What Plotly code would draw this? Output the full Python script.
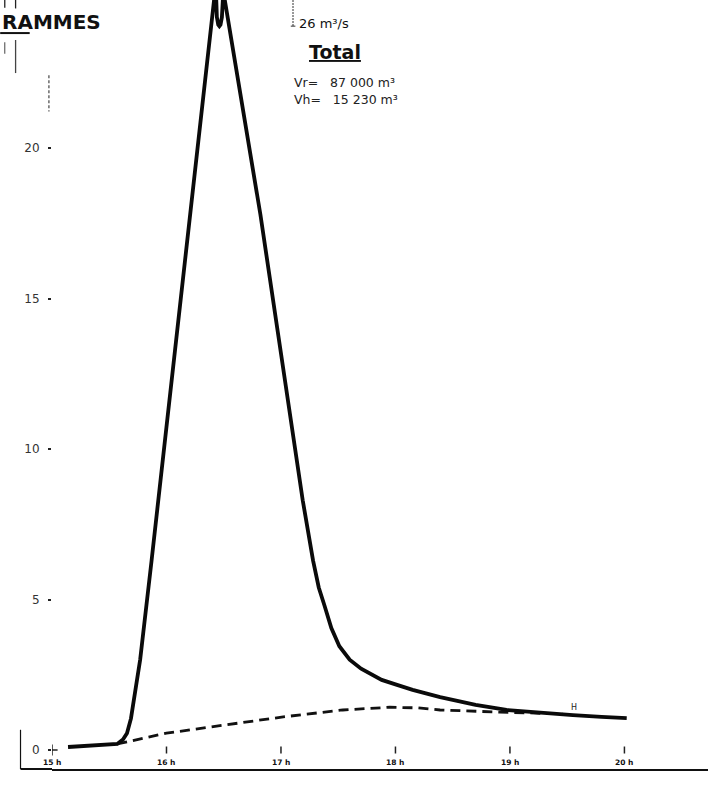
import plotly.graph_objects as go

# Total runoff hydrograph (m3/s) against time of day (h)
total_hours = [15.14, 15.35, 15.57, 15.62, 15.655, 15.69, 15.71, 15.74, 15.77, 15.87,
               16.12, 16.415, 16.425, 16.432, 16.44, 16.452, 16.462, 16.472, 16.484,
               16.492, 16.50, 16.51,
               16.82, 16.97, 17.10, 17.19, 17.28, 17.33, 17.38, 17.44, 17.51,
               17.60, 17.70, 17.80, 17.88, 18.00, 18.15, 18.39, 18.70, 18.97,
               19.30, 19.55, 19.80, 20.02]
total_flow = [0.10, 0.15, 0.20, 0.35, 0.56, 1.05, 1.55, 2.35, 3.0, 6.3,
              14.95, 24.9, 26.0, 24.9, 24.35, 24.1, 24.05, 24.1, 24.35,
              24.9, 26.0, 24.9,
              17.8, 13.95, 10.5, 8.3, 6.3, 5.4, 4.8, 4.05, 3.45,
              3.0, 2.7, 2.48, 2.33, 2.18, 2.0, 1.76, 1.5, 1.33,
              1.22, 1.16, 1.10, 1.06]

# Separated base flow (dashed)
base_hours = [15.57, 16.0, 16.64, 17.02, 17.54, 17.95, 18.2, 18.39, 18.91, 19.46]
base_flow = [0.2, 0.56, 0.9, 1.1, 1.33, 1.42, 1.4, 1.33, 1.26, 1.2]

hour_ticks = [15, 16, 17, 18, 19, 20]
hour_labels = ["15 h", "16 h", "17 h", "18 h", "19 h", "20 h"]
flow_ticks = [0, 5, 10, 15, 20]

peak_flow = 26
vol_runoff = "87 000"
vol_hypo = "15 230"

INK = "#0a0a0a"

fig = go.Figure()

fig.add_trace(go.Scatter(
    x=base_hours, y=base_flow, mode="lines",
    line=dict(color="#111", width=2.8, dash="10px,6px"),
    hoverinfo="skip"))

fig.add_trace(go.Scatter(
    x=total_hours, y=total_flow, mode="lines",
    line=dict(color=INK, width=3.8),
    hoverinfo="skip"))

# small tick marks along the zero line
fig.add_trace(go.Scatter(
    x=hour_ticks[1:], y=[0] * (len(hour_ticks) - 1), mode="markers",
    marker=dict(symbol="line-ns-open", size=5, color="#222",
                line=dict(color="#222", width=1.5)),
    hoverinfo="skip"))
fig.add_trace(go.Scatter(
    x=[hour_ticks[0]], y=[0], mode="markers",
    marker=dict(symbol="cross-thin-open", size=8, color="#222",
                line=dict(color="#222", width=1.5)),
    hoverinfo="skip"))

NBSP = "\u00a0"
annotations = [
    dict(text="<b>RAMMES</b>", x=-0.079, y=0.971, xref="paper", yref="paper",
         xanchor="left", yanchor="middle", showarrow=False,
         font=dict(family="DejaVu Sans", size=20, color="#111")),
    dict(text=f"{peak_flow} m³/s", x=0.373, y=0.970, xref="paper", yref="paper",
         xanchor="left", yanchor="middle", showarrow=False,
         font=dict(family="DejaVu Sans", size=13, color="#111")),
    dict(text="<b><u>Total</u></b>", x=0.432, y=0.933, xref="paper", yref="paper",
         xanchor="center", yanchor="middle", showarrow=False,
         font=dict(family="DejaVu Sans", size=19, color="#111")),
    dict(text=f"Vr={NBSP}{NBSP}{NBSP}{vol_runoff} m³", x=0.366, y=0.893,
         xref="paper", yref="paper", xanchor="left", yanchor="middle", showarrow=False,
         font=dict(family="DejaVu Sans", size=12.5, color="#222")),
    dict(text=f"Vh={NBSP}{NBSP}{NBSP}{vol_hypo} m³", x=0.366, y=0.871,
         xref="paper", yref="paper", xanchor="left", yanchor="middle", showarrow=False,
         font=dict(family="DejaVu Sans", size=12.5, color="#222")),
    dict(text="H", x=19.56, y=1.42, xref="x", yref="y",
         xanchor="center", yanchor="middle", showarrow=False,
         font=dict(family="DejaVu Sans", size=8, color="#222")),
]
# hour labels sit just above the baseline
for h, lab in zip(hour_ticks, hour_labels):
    annotations.append(dict(
        text=f"<b>{lab}</b>", x=h, y=0.009, xref="x", yref="paper",
        xanchor="center", yanchor="middle", showarrow=False,
        font=dict(family="DejaVu Sans", size=7.5, color="#111")))

shapes = [
    # underline beneath the first letters of the heading
    dict(type="line", xref="paper", yref="paper", x0=-0.079, x1=-0.034, y0=0.957, y1=0.957,
         line=dict(color="#111", width=2)),
    # bracket next to the peak value
    dict(type="line", xref="paper", yref="paper", x0=0.3674, x1=0.3674, y0=1.0, y1=0.966,
         line=dict(color="#333", width=1, dash="2px,1px")),
    dict(type="line", xref="paper", yref="paper", x0=0.364, x1=0.371, y0=0.966, y1=0.966,
         line=dict(color="#333", width=1)),
    # frame pieces at the lower left
    dict(type="line", xref="paper", yref="paper", x0=-0.048, x1=0, y0=0, y1=0,
         line=dict(color="#111", width=2)),
    dict(type="line", xref="paper", yref="paper", x0=-0.048, x1=-0.048, y0=0, y1=0.051,
         line=dict(color="#111", width=1.2)),
    # frame pieces at the upper left
    dict(type="line", xref="paper", yref="paper", x0=-0.0555, x1=-0.0555, y0=1.0, y1=0.989,
         line=dict(color="#222", width=1.3)),
    dict(type="line", xref="paper", yref="paper", x0=-0.0555, x1=-0.0555, y0=0.948, y1=0.905,
         line=dict(color="#444", width=1.3)),
    dict(type="line", xref="paper", yref="paper", x0=-0.072, x1=-0.072, y0=1.0, y1=0.99,
         line=dict(color="#222", width=1.3)),
    dict(type="line", xref="paper", yref="paper", x0=-0.072, x1=-0.072, y0=0.945, y1=0.93,
         line=dict(color="#555", width=1.1)),
    dict(type="line", xref="paper", yref="paper", x0=-0.0047, x1=-0.0047, y0=0.902, y1=0.855,
         line=dict(color="#444", width=1.2, dash="3px,2px")),
]

fig.update_layout(
    width=708, height=790,
    margin=dict(l=52, r=0, t=0, b=21),
    paper_bgcolor="white", plot_bgcolor="white",
    showlegend=False,
    annotations=annotations,
    shapes=shapes,
    xaxis=dict(
        range=[15, 20.73], showgrid=False, zeroline=False,
        showline=True, linecolor="#111", linewidth=2,
        tickvals=hour_ticks, ticks="", showticklabels=False,
    ),
    yaxis=dict(
        range=[-0.631, 24.92], showgrid=False, zeroline=False, showline=False,
        tickvals=flow_ticks, ticks="outside", ticklen=3, tickwidth=2, tickcolor="#222",
        ticklabelstandoff=6,
        tickfont=dict(family="DejaVu Sans", size=12, color="#333"),
    ),
)

fig.write_html("out.html")
